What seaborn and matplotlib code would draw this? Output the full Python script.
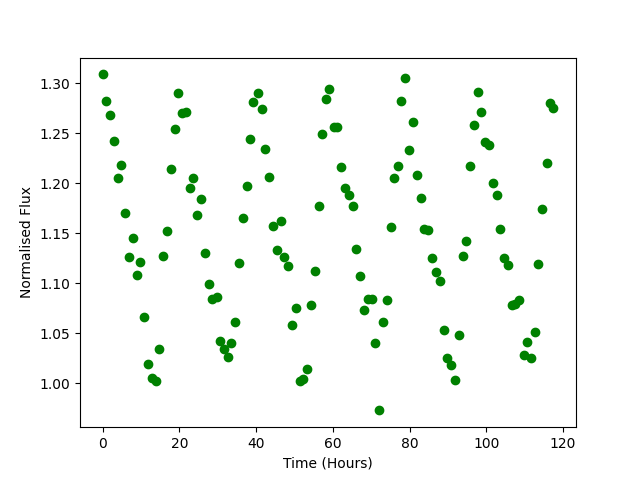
import matplotlib
matplotlib.use("Agg")
import matplotlib.pyplot as plt
import seaborn as sns

time_hours = [
    0.0, 0.9, 1.9, 2.9, 3.9, 4.8, 5.8, 6.9, 7.9, 8.9,
    9.7, 10.8, 11.8, 12.9, 13.9, 14.7, 15.7, 16.8, 17.8, 18.9,
    19.6, 20.6, 21.7, 22.8, 23.6, 24.6, 25.6, 26.7, 27.7, 28.4,
    29.7, 30.6, 31.6, 32.7, 33.5, 34.5, 35.6, 36.6, 37.6, 38.4,
    39.3, 40.5, 41.6, 42.3, 43.4, 44.4, 45.5, 46.6, 47.3, 48.3,
    49.4, 50.4, 51.5, 52.3, 53.3, 54.3, 55.4, 56.4, 57.2, 58.1,
    59.0, 60.3, 61.1, 62.2, 63.1, 64.3, 65.3, 66.1, 67.1, 68.2,
    69.2, 70.3, 71.0, 72.1, 73.1, 74.2, 75.2, 76.0, 77.0, 77.9,
    78.7, 79.9, 81.0, 82.0, 83.0, 83.8, 84.9, 85.9, 87.0, 88.0,
    89.0, 89.8, 90.9, 91.9, 93.0, 94.0, 94.8, 95.8, 96.9, 97.8,
    98.7, 99.6, 100.7, 101.8, 102.9, 103.7, 104.7, 105.7, 106.8, 107.6,
    108.6, 109.7, 110.7, 111.7, 112.8, 113.6, 114.6, 115.7, 116.7, 117.5,
]

flux = [
    1.309, 1.282, 1.268, 1.242, 1.205, 1.218, 1.170, 1.126, 1.145, 1.108,
    1.121, 1.066, 1.019, 1.005, 1.002, 1.034, 1.127, 1.152, 1.214, 1.254,
    1.290, 1.270, 1.271, 1.195, 1.205, 1.168, 1.184, 1.130, 1.099, 1.084,
    1.086, 1.042, 1.034, 1.026, 1.040, 1.061, 1.120, 1.165, 1.197, 1.244,
    1.281, 1.290, 1.274, 1.234, 1.206, 1.157, 1.133, 1.162, 1.126, 1.117,
    1.058, 1.075, 1.002, 1.004, 1.014, 1.078, 1.112, 1.177, 1.249, 1.284,
    1.294, 1.256, 1.256, 1.216, 1.195, 1.188, 1.177, 1.134, 1.107, 1.073,
    1.084, 1.084, 1.040, 0.973, 1.061, 1.083, 1.156, 1.205, 1.217, 1.282,
    1.305, 1.233, 1.261, 1.208, 1.185, 1.154, 1.153, 1.125, 1.111, 1.102,
    1.053, 1.025, 1.018, 1.003, 1.048, 1.127, 1.142, 1.217, 1.258, 1.291,
    1.271, 1.241, 1.238, 1.200, 1.188, 1.154, 1.125, 1.118, 1.078, 1.079,
    1.083, 1.028, 1.041, 1.025, 1.051, 1.119, 1.174, 1.220, 1.280, 1.275,
]

fig, ax = plt.subplots(figsize=(6.4, 4.8), dpi=100)
sns.scatterplot(x=time_hours, y=flux, color="green", s=36,
                edgecolor="green", linewidth=1, ax=ax)
ax.set_xlabel("Time (Hours)")
ax.set_ylabel("Normalised Flux")
plt.savefig("out.png")
